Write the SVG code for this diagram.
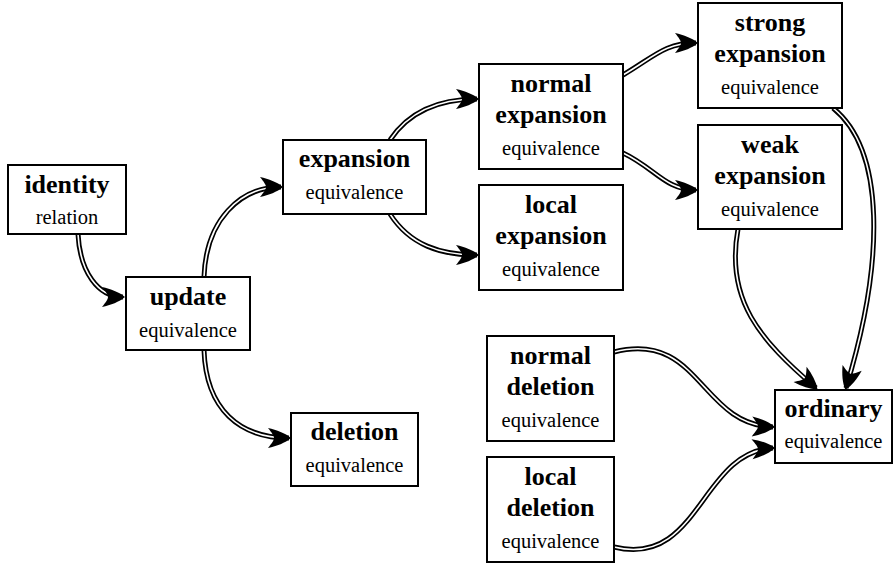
<svg xmlns="http://www.w3.org/2000/svg" width="894" height="565" viewBox="0 0 894 565">
<style>
.box{fill:#fff;stroke:#000;stroke-width:2}
.t{font-family:"Liberation Serif","Times New Roman",serif;font-weight:bold;font-size:26px;text-anchor:middle;fill:#000}
.s{font-family:"Liberation Serif","Times New Roman",serif;font-size:20.5px;text-anchor:middle;fill:#000}
.outer{fill:none;stroke:#000;stroke-width:5}
.inner{fill:none;stroke:#fff;stroke-width:1.6;marker-end:url(#ah)}
</style>
<defs>
<marker id="ah" markerUnits="userSpaceOnUse" viewBox="-24 -12 28 24" refX="0" refY="0" markerWidth="28" markerHeight="24" orient="auto" overflow="visible">
<path d="M2,0 C-4,-5 -12,-8 -21,-10 C-17,-5 -15,-2 -15,0 C-15,2 -17,5 -21,10 C-12,8 -4,5 2,0 Z" fill="#000"/>
</marker>
</defs>
<rect width="894" height="565" fill="#fff"/>
<g id="connectors">
<path class="outer" d="M78,234 C80,272 98,297 123,297"/>
<path class="inner" d="M78,234 C80,272 98,297 123,297"/>
<path class="outer" d="M204,277 C206,220 240,187 281,187"/>
<path class="inner" d="M204,277 C206,220 240,187 281,187"/>
<path class="outer" d="M204,350 C206,410 240,438 289,438"/>
<path class="inner" d="M204,350 C206,410 240,438 289,438"/>
<path class="outer" d="M390,140 C410,110 440,99 477,99"/>
<path class="inner" d="M390,140 C410,110 440,99 477,99"/>
<path class="outer" d="M390,214 C410,245 440,255 477,255"/>
<path class="inner" d="M390,214 C410,245 440,255 477,255"/>
<path class="outer" d="M623,75 C655,56 665,43 696,43"/>
<path class="inner" d="M623,75 C655,56 665,43 696,43"/>
<path class="outer" d="M623,153 C655,168 665,190 696,190"/>
<path class="inner" d="M623,153 C655,168 665,190 696,190"/>
<path class="outer" d="M833,108 C885,150 885,260 846,388"/>
<path class="inner" d="M833,108 C885,150 885,260 846,388"/>
<path class="outer" d="M738,229 C725,300 760,340 816,388"/>
<path class="inner" d="M738,229 C725,300 760,340 816,388"/>
<path class="outer" d="M614,352 C700,330 700,425 773,427"/>
<path class="inner" d="M614,352 C700,330 700,425 773,427"/>
<path class="outer" d="M614,547 C700,568 700,452 773,448"/>
<path class="inner" d="M614,547 C700,568 700,452 773,448"/>
</g>
<g id="identity"><rect class="box" x="8" y="165" width="118" height="69"/><text class="t" x="67" y="193">identity</text><text class="s" x="67" y="224">relation</text></g>
<g id="update"><rect class="box" x="126" y="277" width="124" height="73"/><text class="t" x="188" y="305">update</text><text class="s" x="188" y="337">equivalence</text></g>
<g id="expansion"><rect class="box" x="283" y="140" width="143" height="74"/><text class="t" x="354.5" y="167">expansion</text><text class="s" x="354.5" y="199">equivalence</text></g>
<g id="normal-expansion"><rect class="box" x="479" y="64" width="144" height="105"/><text class="t" x="551" y="92">normal</text><text class="t" x="551" y="123">expansion</text><text class="s" x="551" y="155">equivalence</text></g>
<g id="local-expansion"><rect class="box" x="479" y="185" width="144" height="105"/><text class="t" x="551" y="213">local</text><text class="t" x="551" y="244">expansion</text><text class="s" x="551" y="276">equivalence</text></g>
<g id="strong-expansion"><rect class="box" x="698" y="3" width="144" height="105"/><text class="t" x="770" y="31">strong</text><text class="t" x="770" y="62">expansion</text><text class="s" x="770" y="94">equivalence</text></g>
<g id="weak-expansion"><rect class="box" x="698" y="125" width="144" height="104"/><text class="t" x="770" y="153">weak</text><text class="t" x="770" y="184">expansion</text><text class="s" x="770" y="216">equivalence</text></g>
<g id="deletion"><rect class="box" x="291" y="413" width="127" height="73"/><text class="t" x="354.5" y="440">deletion</text><text class="s" x="354.5" y="472">equivalence</text></g>
<g id="normal-deletion"><rect class="box" x="487" y="336" width="127" height="105"/><text class="t" x="550.5" y="364">normal</text><text class="t" x="550.5" y="395">deletion</text><text class="s" x="550.5" y="427">equivalence</text></g>
<g id="local-deletion"><rect class="box" x="487" y="457" width="127" height="105"/><text class="t" x="550.5" y="485">local</text><text class="t" x="550.5" y="516">deletion</text><text class="s" x="550.5" y="548">equivalence</text></g>
<g id="ordinary"><rect class="box" x="775" y="390" width="117" height="73"/><text class="t" x="833.5" y="417">ordinary</text><text class="s" x="833.5" y="448">equivalence</text></g>
</svg>
